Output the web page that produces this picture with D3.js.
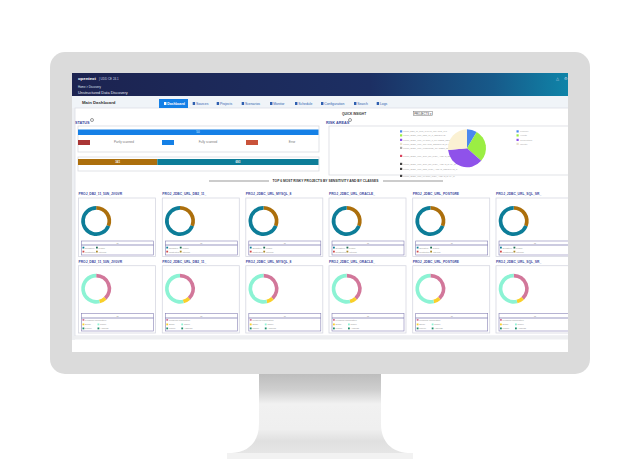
<!DOCTYPE html>
<html><head><meta charset="utf-8">
<style>html,body{margin:0;padding:0;background:#fff;overflow:hidden}svg{display:block}text{font-family:"Liberation Sans",Arial,sans-serif}</style>
<script src="https://cdn.jsdelivr.net/npm/d3@7"></script></head><body>
<svg id="c" width="640" height="468"></svg>
<script>
const projects = ["PROJ_DB2_11_50N_JVGVR","PROJ_JDBC_URL_DB2_11_","PROJ_JDBC_URL_MYSQL_8","PROJ_JDBC_URL_ORACLE_","PROJ_JDBC_URL_POSTGRE","PROJ_JDBC_URL_SQL_SR_"];
const navLabels = ["Dashboard","Sources","Projects","Scenarios","Monitor","Schedule","Configuration","Search","Logs"];
const statusTotal = [50];
const statusLabels = ["Partly scanned","Fully scanned","Error"];
const statusColors = ["#a93535","#1580e6","#c9533a"];
const splitValues = [341,693];
const splitColors = ["#ac6f0c","#0d7d98"];
const sensitivityValues = [31,69];
const sensitivityColors = ["#ac6f0c","#0d7d98"];
const sensitivityLegend = ["Sensitive","Public","Restricted","Internal"];
const classValues = [38,8,54];
const classColors = ["#d2779a","#f9cf2a","#8cf3d4"];
const classLegend = ["Personal information","Email","Name","Phone","Address"];
const riskValues = [8.5,28,37,26.5];
const riskColors = ["#4b88ee","#9bee43","#8f52ea","#fbf1d3"];
const riskNames = ["Finance","Health","Credentials","Identity"];
const riskLegend = ["PROJ_DB2_11_50N_JVGVR_ORACLE_19C","PROJ_JDBC_URL_DB2_11_5_SENSITIVE","PROJ_JDBC_URL_MYSQL_8_CLASSES_DETECTED_A","PROJ_JDBC_URL_ORACLE_SENSITIVE_DATA","PROJ_JDBC_URL_POSTGRE_CLASSES_DETECTED_B","PROJ_JDBC_URL_SQL_SR_RISK_AREAS_SENSITIVE_DATA_A","PROJ_JDBC_URL_SQL_SR_RISK_AREAS_DATA_B","PROJ_JDBC_URL_DB2_RISK_AREAS_SENSITIVE_C","PROJ_JDBC_URL_MYSQL_RISK_AREAS_DATA_D"];
const riskLegendColors = ["#4b88ee","#9bee43","#8f52ea","#e8e2cc","#aaa","#d9435e","#444","#444","#444"];

const svg = d3.select("#c");
const defs = svg.append("defs");
const hg = defs.append("linearGradient").attr("id","hg");
[[0,"#1c2350"],[.6,"#1c2f63"],[.85,"#175a8a"],[1,"#0f84a8"]].forEach(s=>hg.append("stop").attr("offset",s[0]).attr("stop-color",s[1]));
const sg = defs.append("linearGradient").attr("id","sg").attr("x2",0).attr("y2",1);
[[0,"#bdbdbd"],[.2,"#cfcfcf"],[.38,"#f1f1f1"],[.7,"#efefef"],[.85,"#e0e0e0"],[1,"#e6e6e6"]].forEach(s=>sg.append("stop").attr("offset",s[0]).attr("stop-color",s[1]));
defs.append("clipPath").attr("id","sc").append("rect").attr("x",72).attr("y",73).attr("width",496).attr("height",279);

// stand
svg.append("path").attr("d","M259 374H381V424C381 442 392 452 408 453H232C248 452 259 442 259 424Z").attr("fill","url(#sg)");
svg.append("rect").attr("x",227).attr("y",453).attr("width",186).attr("height",6).attr("fill","#f2f2f2");
// bezel
svg.append("rect").attr("x",50).attr("y",52).attr("width",540).attr("height",322).attr("rx",15).attr("fill","#dbdbdb");
const g = svg.append("g").attr("clip-path","url(#sc)");
g.append("rect").attr("x",72).attr("y",73).attr("width",496).attr("height",279).attr("fill","#fff");
g.append("rect").attr("x",72).attr("y",73).attr("width",496).attr("height",23).attr("fill","url(#hg)");
g.append("rect").attr("x",72).attr("y",96).attr("width",496).attr("height",12).attr("fill","#f0f4f8");
g.append("rect").attr("x",72).attr("y",108).attr("width",3).attr("height",232).attr("fill","#eef0f3");
g.append("rect").attr("x",75).attr("y",108).attr("width",500).attr("height",228).attr("fill","#fff").attr("stroke","#dcdfe5").attr("stroke-width",.8);
g.append("rect").attr("x",72).attr("y",336).attr("width",496).attr("height",3.5).attr("fill","#eeeff1");

const T=(p,x,y,s,o={})=>p.append("text").attr("x",x).attr("y",y).text(s).attr("font-size",o.size||3).attr("fill",o.fill||"#666").attr("font-weight",o.weight||"normal").attr("text-anchor",o.anchor||"start");
// header text
T(g,78,79.5,"opentext",{size:4.3,fill:"#fff",weight:"bold"});
T(g,99,79.5,"| UDD  CE 24.1",{size:3,fill:"#cdd3e6"});
T(g,78,88,"Home  >  Discovery",{size:2.8,fill:"#dfe3f0"});
T(g,78,94,"Unstructured Data Discovery",{size:3.9,fill:"#e6e9f4"});
T(g,556,79.5,"△",{size:4,fill:"#c8d6e6"});
T(g,564,79.5,"⚙",{size:4,fill:"#c8d6e6"});
T(g,82,103.6,"Main Dashboard",{size:4.3,fill:"#333",weight:"bold"});
// nav
const navX = d3.scaleOrdinal().domain(navLabels).range([164,192.7,216.7,241.7,270,295,321,354,376.7]);
g.append("rect").attr("x",159).attr("y",99).attr("width",29).attr("height",9).attr("fill","#1580e6");
navLabels.forEach((n,i)=>{
  const col = i===0?"#fff":"#2f5fb0";
  g.append("rect").attr("x",navX(n)).attr("y",102).attr("width",2.4).attr("height",3).attr("fill",col);
  T(g,navX(n)+3.2,104.8,n,{size:3.4,fill:col,weight:i===0?"bold":"normal"});
});
const icon=(x,y)=>g.append("circle").attr("cx",x).attr("cy",y).attr("r",1.5).attr("fill","none").attr("stroke","#555").attr("stroke-width",.6);
// status
T(g,75,124,"STATUS",{size:3.8,fill:"#3d4aa0",weight:"bold"}); icon(92,120);
const box=(x,y,w,h)=>g.append("rect").attr("x",x).attr("y",y).attr("width",w).attr("height",h).attr("fill","#fff").attr("stroke","#d9dbe0").attr("stroke-width",.8);
box(78,126,241,26); box(78,157,241,14);
const xTotal=d3.scaleLinear().domain([0,d3.sum(statusTotal)]).range([78,318.5]);
g.append("rect").attr("x",xTotal(0)).attr("y",129.5).attr("width",xTotal(statusTotal[0])-xTotal(0)).attr("height",5.5).attr("fill","#1580e6");
T(g,198,133.4,String(statusTotal[0]),{size:3,fill:"#dcecff",anchor:"middle"});
const xLeg=d3.scaleBand().domain(statusLabels).range([78,330]);
statusLabels.forEach((s,i)=>{
  g.append("rect").attr("x",xLeg(s)).attr("y",140).attr("width",12).attr("height",5).attr("fill",statusColors[i]);
  T(g,xLeg(s)+46,143.4,s,{size:3,fill:"#777",anchor:"middle"});
});
const xSplit=d3.scaleLinear().domain([0,d3.sum(splitValues)]).range([78,318.5]);
let acc=0;
splitValues.forEach((v,i)=>{
  g.append("rect").attr("x",xSplit(acc)).attr("y",159).attr("width",xSplit(acc+v)-xSplit(acc)).attr("height",6).attr("fill",splitColors[i]);
  T(g,(xSplit(acc)+xSplit(acc+v))/2,163.2,String(v),{size:3,fill:"#f1f1f1",anchor:"middle",weight:"bold"});
  acc+=v;
});
// risk
T(g,326,124,"RISK AREAS",{size:3.8,fill:"#3d4aa0",weight:"bold"}); icon(350,120);
T(g,342,115.4,"QUICK INSIGHT",{size:3.2,fill:"#333",weight:"bold"});
g.append("rect").attr("x",413.5).attr("y",111.5).attr("width",19).attr("height",4).attr("fill","#fff").attr("stroke","#777").attr("stroke-width",.5);
T(g,423,114.7,"PROJECTS ▾",{size:2.8,fill:"#444",anchor:"middle"});
box(329,126,245,49);
const riskRows=[131.5,135.5,140,144,148,156,164,169,176];
riskLegend.forEach((s,i)=>{
  g.append("rect").attr("x",400).attr("y",riskRows[i]-1.2).attr("width",2.2).attr("height",2.2).attr("fill",riskLegendColors[i]);
  T(g,403.2,riskRows[i]+.9,s,{size:2.2,fill:"#aaa"});
});
const pie=d3.pie().sort(null).startAngle(0).endAngle(2*Math.PI);
const pieG=g.append("g").attr("transform","translate(467,148.3)");
pieG.selectAll("path").data(pie(riskValues)).join("path").attr("d",d3.arc().innerRadius(0).outerRadius(19)).attr("fill",(d,i)=>riskColors[i]);
riskNames.forEach((s,i)=>{
  g.append("rect").attr("x",516.5).attr("y",riskRows[i]-1.2).attr("width",2.2).attr("height",2.2).attr("fill",riskColors[i]==="#fbf1d3"?"#e8e2cc":riskColors[i]);
  T(g,520,riskRows[i]+.9,s,{size:2.4,fill:"#aaa"});
});
// section title
g.append("rect").attr("x",209).attr("y",180.5).attr("width",60).attr("height",1).attr("fill","#999");
g.append("rect").attr("x",383).attr("y",180.5).attr("width",60).attr("height",1).attr("fill","#999");
T(g,325.5,182.2,"TOP 6 MOST RISKY PROJECTS BY SENSITIVITY AND BY CLASSES",{size:3.3,fill:"#333",weight:"bold",anchor:"middle"});
// cards
const cardX=d3.scaleOrdinal().domain(projects).range([78.5,162.3,245.8,329,412.7,496]);
const rows=[
 {title:195,y:198,h:58.5,cy:221,values:sensitivityValues,colors:sensitivityColors,legY:241,legH:14,lineY:245,items:sensitivityLegend,sw:["#0d7d98","#1f6e55","#d24a4a","#ac8a2c"],rowsY:[247.7,251.7]},
 {title:262.5,y:265.7,h:67.3,cy:288.7,values:classValues,colors:classColors,legY:313.5,legH:17.5,lineY:318,items:classLegend,sw:["#d2779a","#f9cf2a","#8cf3d4","#1f8e6d","#1f8e6d"],rowsY:[320,324.5,328.5]}
];
const arc=d3.arc().innerRadius(11.3).outerRadius(15);
rows.forEach(r=>{
  projects.forEach(p=>{
    const x=cardX(p);
    T(g,x,r.title,p,{size:3.3,fill:"#3d4aa0",weight:"bold"});
    g.append("rect").attr("x",x).attr("y",r.y).attr("width",77).attr("height",r.h).attr("fill","#fff").attr("stroke","#d6d8e2").attr("stroke-width",.8);
    g.append("g").attr("transform",`translate(${x+17.7},${r.cy})`).selectAll("path").data(pie(r.values)).join("path").attr("d",arc).attr("fill",(d,i)=>r.colors[i]);
    g.append("rect").attr("x",x+3).attr("y",r.legY).attr("width",72).attr("height",r.legH).attr("fill","none").attr("stroke","#8580b4").attr("stroke-width",.6);
    g.append("line").attr("x1",x+3).attr("x2",x+75).attr("y1",r.lineY).attr("y2",r.lineY).attr("stroke","#6f6aa6").attr("stroke-width",.7);
    T(g,x+39,r.lineY-1,"%",{size:2.4,fill:"#666",anchor:"middle"});
    r.items.forEach((s,i)=>{
      const two=r.items.length===4;
      const colI = two ? i%2 : (i===0?0:(i-1)%2);
      const rowI = two ? Math.floor(i/2) : (i===0?0:1+Math.floor((i-1)/2));
      const lx=x+4+colI*(two?13.5:15);
      g.append("rect").attr("x",lx).attr("y",r.rowsY[rowI]-1).attr("width",1.8).attr("height",1.8).attr("fill",r.sw[i]);
      T(g,lx+2.6,r.rowsY[rowI]+.8,s,{size:2.3,fill:"#999"});
    });
  });
});
</script></body></html>
